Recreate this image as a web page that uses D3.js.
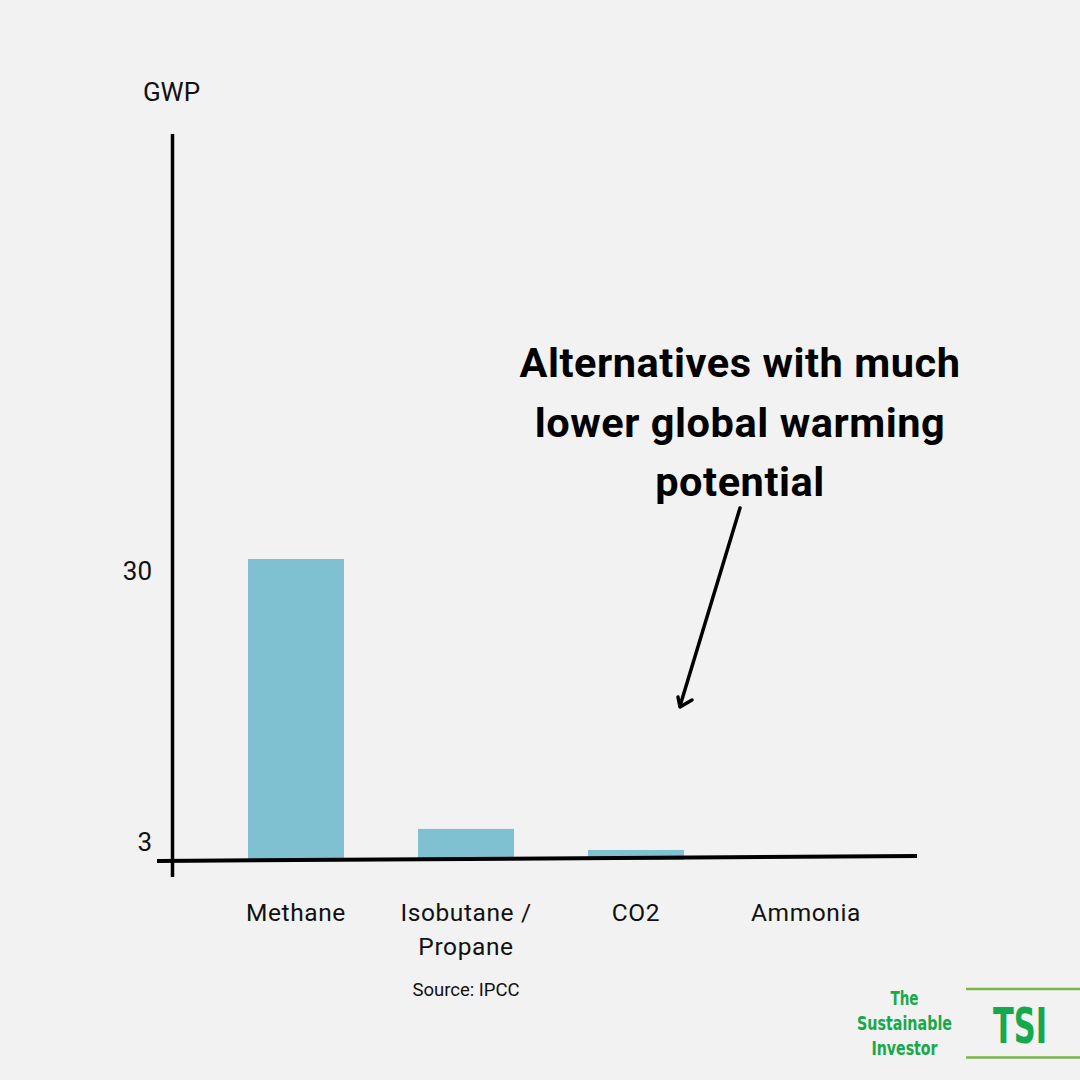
<!DOCTYPE html>
<html>
<head>
<meta charset="utf-8">
<script src="https://cdn.jsdelivr.net/npm/d3@7"></script>
<style>
  html, body { margin: 0; padding: 0; background: #f2f2f2; }
  svg { display: block; }
</style>
</head>
<body>
<script>
// ---- data ----
const categories = ["Methane", "Isobutane / Propane", "CO2", "Ammonia"];
const categoryLines = [["Methane"], ["Isobutane /", "Propane"], ["CO2"], ["Ammonia"]];
const gwpValues = [30, 3.1, 1, 0];
const tickValues = [30, 3];
const tickLabels = ["30", "3"];
const titleLines = ["Alternatives with much", "lower global warming", "potential"];
const yAxisTitle = "GWP";
const sourceText = "Source: IPCC";
const logoLines = ["The", "Sustainable", "Investor"];
const logoMark = "TSI";

// ---- layout ----
const W = 1080, H = 1080;
const svg = d3.select("body").append("svg").attr("width", W).attr("height", H);
svg.append("rect").attr("width", W).attr("height", H).attr("fill", "#f2f2f2");

const x = d3.scaleBand().domain(categories).range([211, 891])
  .paddingInner(74 / 170).paddingOuter(37 / 170);
const y = d3.scaleLinear().domain([0, 30]).range([860, 559]);

const font = "Roboto, 'Noto Sans', sans-serif";

// bars
svg.append("g").selectAll("rect").data(categories).join("rect")
  .attr("x", d => x(d))
  .attr("width", x.bandwidth())
  .attr("y", (d, i) => y(gwpValues[i]))
  .attr("height", (d, i) => y(0) - y(gwpValues[i]))
  .attr("fill", "#80c1d1");

// y axis line
svg.append("line").attr("x1", 172.5).attr("x2", 172.5).attr("y1", 134).attr("y2", 877)
  .attr("stroke", "#000").attr("stroke-width", 3.5);
// x axis line (slightly sloped as in reference)
svg.append("line").attr("x1", 157).attr("y1", 861).attr("x2", 917).attr("y2", 856)
  .attr("stroke", "#000").attr("stroke-width", 4);

// y tick labels
svg.append("g").selectAll("text").data(tickValues).join("text")
  .attr("x", 152)
  .attr("y", d => y(d) + 21)
  .attr("text-anchor", "end")
  .attr("font-family", font).attr("font-size", 26).attr("fill", "#111")
  .text((d, i) => tickLabels[i]);

// y axis title
svg.append("text").attr("x", 171.5).attr("y", 101).attr("text-anchor", "middle")
  .attr("font-family", font).attr("font-size", 26).attr("fill", "#111").text(yAxisTitle);

// category labels
const cl = svg.append("g").selectAll("text").data(categories).join("text")
  .attr("text-anchor", "middle")
  .attr("font-family", font).attr("font-size", 24.5).attr("letter-spacing", 0.6).attr("fill", "#111");
cl.each(function(d, i) {
  const t = d3.select(this);
  categoryLines[i].forEach((line, j) => {
    t.append("tspan").attr("x", x(d) + x.bandwidth() / 2).attr("y", 921 + j * 34).text(line);
  });
});

// source
svg.append("text").attr("x", 466).attr("y", 996).attr("text-anchor", "middle")
  .attr("font-family", font).attr("font-size", 18.5).attr("fill", "#111").text(sourceText);

// title annotation
svg.append("g").selectAll("text").data(titleLines).join("text")
  .attr("x", 740).attr("y", (d, i) => 377 + i * 59.5)
  .attr("text-anchor", "middle")
  .attr("font-family", font).attr("font-weight", 700).attr("font-size", 41.5)
  .attr("letter-spacing", 0.55).attr("fill", "#000")
  .text(d => d);

// arrow
svg.append("path")
  .attr("d", "M740,508 L680,706")
  .attr("stroke", "#000").attr("stroke-width", 3.5).attr("fill", "none").attr("stroke-linecap", "round");
svg.append("path")
  .attr("d", "M678,697 L680,707 L692,700")
  .attr("stroke", "#000").attr("stroke-width", 3.5).attr("fill", "none")
  .attr("stroke-linecap", "round").attr("stroke-linejoin", "round");

// logo
const green = "#16a94b";
const logoFont = "'Liberation Sans Narrow', 'DejaVu Sans Condensed', sans-serif";
const logoWidths = [28, 95, 66];
svg.append("g").selectAll("text").data(logoLines).join("text")
  .attr("x", 904.5).attr("y", (d, i) => 1005 + i * 25)
  .attr("text-anchor", "middle")
  .attr("font-family", logoFont).attr("font-weight", 700).attr("font-size", 19).attr("fill", green)
  .attr("textLength", (d, i) => logoWidths[i]).attr("lengthAdjust", "spacingAndGlyphs")
  .text(d => d);
svg.append("line").attr("x1", 966).attr("x2", 1080).attr("y1", 989).attr("y2", 989)
  .attr("stroke", "#7ab648").attr("stroke-width", 2.5);
svg.append("line").attr("x1", 966).attr("x2", 1080).attr("y1", 1057.5).attr("y2", 1057.5)
  .attr("stroke", "#7ab648").attr("stroke-width", 2.5);
svg.append("text").attr("x", 1020).attr("y", 1043).attr("text-anchor", "middle")
  .attr("font-family", logoFont).attr("font-weight", 700).attr("font-size", 50).attr("fill", green)
  .attr("textLength", 54).attr("lengthAdjust", "spacingAndGlyphs")
  .text(logoMark);
</script>
</body>
</html>
